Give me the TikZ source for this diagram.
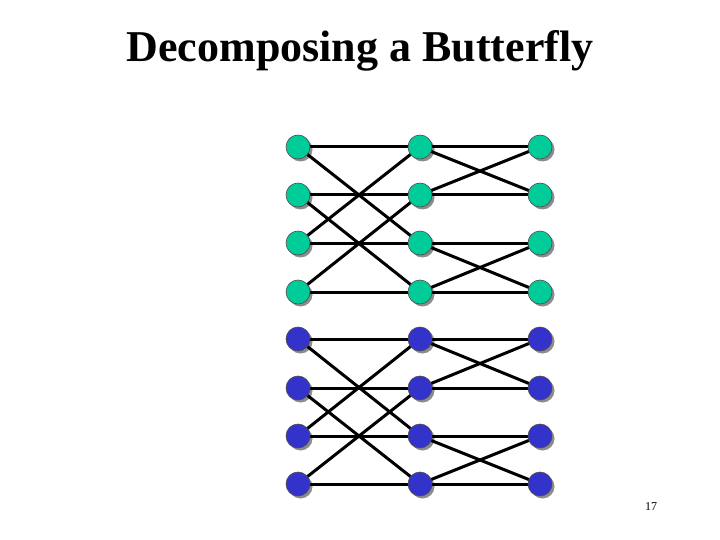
\documentclass[tikz,border=0pt]{standalone}
\usepackage{fontspec}
\setmainfont{Liberation Serif}
\usetikzlibrary{backgrounds}
\begin{document}
\begin{tikzpicture}[x=1pt,y=-1pt,
  vtx/.style={circle,minimum size=24pt,inner sep=0pt,draw=black!70,line width=0.6pt},
  gvtx/.style={vtx,fill={rgb,255:red,0;green,204;blue,153}},
  bvtx/.style={vtx,fill={rgb,255:red,51;green,51;blue,204}},
  edge/.style={line width=3pt,black},
  shad/.style={fill=black!45}]
\useasboundingbox (0,0) rectangle (720,540);
\node[font=\bfseries\fontsize{44}{50}\selectfont,anchor=base] (title) at (360,62) {Decomposing a Butterfly};
\node[font=\fontsize{12}{14}\selectfont,anchor=base] (pg) at (651,510) {17};
\foreach \c/\x in {0/298,1/420,2/540}{
  \foreach \r/\y in {0/147,1/195,2/243,3/292}{
    \node[gvtx] (n\c-\r) at (\x,\y) {};
  }
  \foreach \r/\y in {4/339,5/388,6/436,7/484}{
    \node[bvtx] (n\c-\r) at (\x,\y) {};
  }
}
\begin{pgfonlayer}{background}
  \foreach \c in {0,1,2}{
    \foreach \r in {0,...,7}{
      \fill[shad] ([shift={(2.5,2.5)}]n\c-\r.center) circle (12);
    }
  }
  \foreach \r in {0,...,7}{
    \draw[edge] (n0-\r.center) -- (n1-\r.center) -- (n2-\r.center);
  }
  \foreach \g in {0,4}{
    \pgfmathtruncatemacro{\a}{\g}
    \pgfmathtruncatemacro{\b}{\g+1}
    \pgfmathtruncatemacro{\cc}{\g+2}
    \pgfmathtruncatemacro{\d}{\g+3}
    \draw[edge] (n0-\a.center) -- (n1-\cc.center);
    \draw[edge] (n0-\b.center) -- (n1-\d.center);
    \draw[edge] (n0-\cc.center) -- (n1-\a.center);
    \draw[edge] (n0-\d.center) -- (n1-\b.center);
    \draw[edge] (n1-\a.center) -- (n2-\b.center);
    \draw[edge] (n1-\b.center) -- (n2-\a.center);
    \draw[edge] (n1-\cc.center) -- (n2-\d.center);
    \draw[edge] (n1-\d.center) -- (n2-\cc.center);
  }
\end{pgfonlayer}
\end{tikzpicture}
\end{document}
